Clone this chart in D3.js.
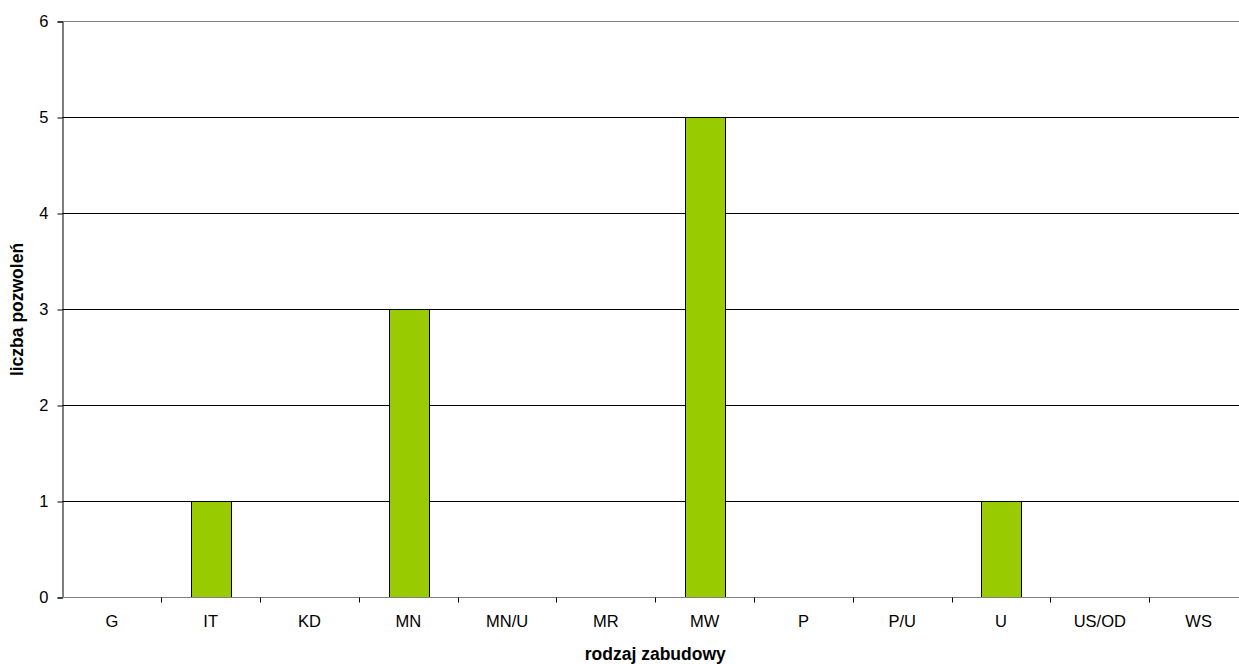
<!DOCTYPE html>
<html><head><meta charset="utf-8">
<script src="https://cdn.jsdelivr.net/npm/d3@7"></script>
<style>body{margin:0;background:#fff}svg{display:block}text{font-family:Arial,"Liberation Sans",sans-serif}</style>
</head><body>
<svg id="c" width="1239" height="664"></svg>
<script>
const categories = ["G","IT","KD","MN","MN/U","MR","MW","P","P/U","U","US/OD","WS"];
const values = [0,1,0,3,0,0,5,0,0,1,0,0];
const yTicks = [0,1,2,3,4,5,6];
const xTitle = "rodzaj zabudowy";
const yTitle = "liczba pozwoleń";

const FONT = "Arial, 'Liberation Sans', sans-serif";
const svg = d3.select("#c");
const m = {l:62.5, r:1248, t:21.5, b:597.5};
const x = d3.scaleBand().domain(categories).range([m.l, m.r]).paddingInner(0).paddingOuter(0);
const y = d3.scaleLinear().domain([0,6]).range([m.b, m.t]);

// gridlines
svg.append("g").selectAll("line").data(yTicks.filter(d=>d>0)).join("line")
  .attr("x1", m.l).attr("x2", m.r).attr("y1", d=>y(d)).attr("y2", d=>y(d))
  .attr("stroke", d=>d===6?"#808080":"#000").attr("stroke-width",1);

// bars
const bw = x.bandwidth()/2.5;
svg.append("g").selectAll("rect").data(categories.map((c,i)=>({c,v:values[i]})).filter(d=>d.v>0)).join("rect")
  .attr("x", d=>Math.round(x(d.c)+x.bandwidth()/2-bw/2)+0.5)
  .attr("y", d=>y(d.v))
  .attr("width", Math.round(bw))
  .attr("height", d=>y(0)-y(d.v))
  .attr("fill","#99CC00").attr("stroke","#000").attr("stroke-width",1);

// y axis
const ya = svg.append("g").attr("transform",`translate(${m.l},0)`)
  .call(d3.axisLeft(y).tickValues(yTicks).tickSize(5).tickPadding(9).tickFormat(d3.format("d")));
ya.select(".domain").attr("stroke","#000");
ya.selectAll(".tick line").attr("stroke","#000");
ya.selectAll("text").attr("font-size","16.5px").attr("fill","#000").attr("font-family",FONT);

// x axis
const xa = svg.append("g").attr("transform",`translate(0,${m.b})`)
  .call(d3.axisBottom(x).tickSize(0).tickPadding(17.5));
xa.select(".domain").attr("stroke","#808080").attr("d",`M${m.l},0H${m.r}`);
xa.selectAll("text").attr("font-size","16.5px").attr("fill","#000").attr("font-family",FONT);
svg.append("g").selectAll("line").data(categories.slice(1)).join("line")
  .attr("x1", d=>Math.round(x(d))+0.5).attr("x2", d=>Math.round(x(d))+0.5)
  .attr("y1", m.b).attr("y2", m.b+5).attr("stroke","#000");

svg.append("text").attr("x",(m.l+m.r)/2).attr("y",660).attr("text-anchor","middle")
  .attr("font-size","17.5px").attr("font-weight","bold").attr("font-family",FONT).text(xTitle);
svg.append("text").attr("transform",`translate(23,${(m.t+m.b)/2}) rotate(-90)`).attr("text-anchor","middle")
  .attr("font-size","17.5px").attr("font-weight","bold").attr("font-family",FONT).text(yTitle);
</script>
</body></html>
